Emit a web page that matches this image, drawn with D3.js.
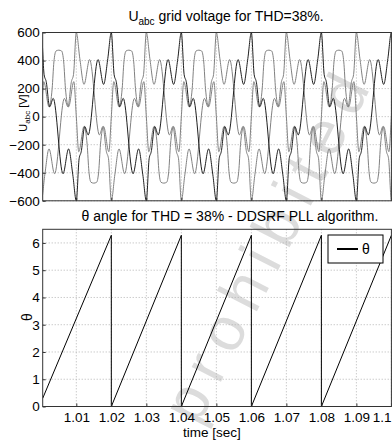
<!DOCTYPE html>
<html>
<head>
<meta charset="utf-8">
<script src="https://cdn.jsdelivr.net/npm/d3@7"></script>
<style>
  body { margin: 0; background: #fff; }
  svg { display: block; }
  text { font-family: "Liberation Sans", Arial, sans-serif; fill: #000; }
</style>
</head>
<body>
<svg id="chart" width="392" height="441"></svg>
<script>
// ---- data ----
const xTickVals = [1.01, 1.02, 1.03, 1.04, 1.05, 1.06, 1.07, 1.08, 1.09, 1.1]
const xTickLabels = ['1.01', '1.02', '1.03', '1.04', '1.05', '1.06', '1.07', '1.08', '1.09', '1.1']
const voltTicks = [-600, -400, -200, 0, 200, 400, 600]
const angleTicks = [0, 1, 2, 3, 4, 5, 6]

// one grid period (0.02 s from 1.02 s); position given as fraction of the period
const period = 0.02
const periodStart = 1.02
// dark phase: spike at 1.02
const darkP = [0, 0.04, 0.07, 0.12, 0.17, 0.31, 0.39, 0.45, 0.5, 0.54, 0.57, 0.62, 0.67, 0.81, 0.89, 0.95]
const darkV = [600, 300, 250, 70, 130, -407, -230, -415, -600, -300, -250, -70, -130, 407, 230, 415]
// grey phase: spike at 1.03
const grayP = [0, 0.05, 0.11, 0.19, 0.33, 0.38, 0.43, 0.46, 0.5, 0.55, 0.61, 0.69, 0.83, 0.88, 0.93, 0.96]
const grayV = [-600, -415, -230, -407, 130, 70, 250, 300, 600, 415, 230, 407, -130, -70, -250, -300]
// grey phase with the flat hump
const humpP = [0, 0.035, 0.11, 0.155, 0.18, 0.21, 0.25, 0.29, 0.32, 0.345, 0.39, 0.465,
               0.5, 0.535, 0.61, 0.655, 0.68, 0.71, 0.75, 0.79, 0.82, 0.845, 0.89, 0.965]
const humpV = [0, 250, 70, 200, 390, 468, 474, 468, 390, 200, 70, 250,
               0, -250, -70, -200, -390, -468, -474, -468, -390, -200, -70, -250]

// theta sawtooth breakpoints
const thetaT = [1.0004, 1.02, 1.02, 1.04, 1.04, 1.06, 1.06, 1.08, 1.08, 1.1]
const thetaV = [0.3, 6.28, 0, 6.28, 0, 6.28, 0, 6.28, 0, 6.28]

// ---- layout ----
const svg = d3.select('#chart')
const L = 42.7, R = 391.4
const top1 = 32.5, bot1 = 200.8
const top2 = 229.3, bot2 = 406.5

const x = d3.scaleLinear().domain([1.0004, 1.1]).range([L, R])
const yV = d3.scaleLinear().domain([-600, 600]).range([bot1, top1])
const yA = d3.scaleLinear().domain([0, 6.5]).range([bot2, top2])

function tile(ps, vs) {
  const pts = []
  for (let k = -2; k <= 5; k++) {
    ps.forEach((p, i) => pts.push([periodStart + (k + p) * period, vs[i]]))
  }
  return pts.sort((a, b) => a[0] - b[0])
}

const defs = svg.append('defs')
defs.append('clipPath').attr('id', 'clip1').append('rect')
  .attr('x', L).attr('y', top1 - 1).attr('width', R - L).attr('height', bot1 - top1 + 2)
defs.append('clipPath').attr('id', 'clip2').append('rect')
  .attr('x', L).attr('y', top2).attr('width', R - L).attr('height', bot2 - top2)

// watermark
svg.append('text')
  .attr('transform', 'translate(198,427) rotate(-63)')
  .attr('font-size', 62).attr('letter-spacing', 12)
  .style('fill', '#dcdcdc')
  .text('prohibited')

function grid(g, y, yt, top, bot) {
  g.selectAll('.gx').data(xTickVals).enter().append('line')
    .attr('x1', d => x(d)).attr('x2', d => x(d)).attr('y1', top).attr('y2', bot)
  g.selectAll('.gy').data(yt).enter().append('line')
    .attr('x1', L).attr('x2', R).attr('y1', d => y(d)).attr('y2', d => y(d))
  g.attr('stroke', '#b4b4b4').attr('stroke-dasharray', '1,2').attr('stroke-width', 1)
}
grid(svg.append('g'), yV, voltTicks, top1, bot1)
grid(svg.append('g'), yA, angleTicks, top2, bot2)

// ---- voltage plot ----
const line = d3.line().x(d => x(d[0])).y(d => yV(d[1])).curve(d3.curveMonotoneX)
const g1 = svg.append('g').attr('clip-path', 'url(#clip1)').attr('fill', 'none')
g1.append('path').attr('d', line(tile(humpP, humpV))).attr('stroke', '#808080')
g1.append('path').attr('d', line(tile(grayP, grayV))).attr('stroke', '#808080')
g1.append('path').attr('d', line(tile(darkP, darkV))).attr('stroke', '#1e1e1e')

// ---- theta plot ----
const tline = d3.line().x(d => x(d[0])).y(d => yA(d[1]))
svg.append('g').attr('clip-path', 'url(#clip2)').append('path')
  .attr('d', tline(thetaT.map((t, i) => [t, thetaV[i]])))
  .attr('fill', 'none').attr('stroke', '#000')

// ---- axes ----
function frame(top, bot) {
  svg.append('rect').attr('x', L).attr('y', top).attr('width', R - L).attr('height', bot - top)
    .attr('fill', 'none').attr('stroke', '#333')
}
frame(top1, bot1)
frame(top2, bot2)

const fs = 13.5
const ax1 = svg.append('g').attr('transform', `translate(${L},0)`)
  .call(d3.axisLeft(yV).tickValues(voltTicks).tickSize(-3).tickPadding(3).tickFormat(d3.format('d')))
const ax2 = svg.append('g').attr('transform', `translate(${L},0)`)
  .call(d3.axisLeft(yA).tickValues(angleTicks).tickSize(-3).tickPadding(3).tickFormat(d3.format('d')))
const ax3 = svg.append('g').attr('transform', `translate(0,${bot2})`)
  .call(d3.axisBottom(x).tickValues(xTickVals).tickSize(-3).tickPadding(6).tickFormat((d, i) => xTickLabels[i]))
const ax4 = svg.append('g').attr('transform', `translate(0,${bot1})`)
  .call(d3.axisBottom(x).tickValues(xTickVals).tickSize(-3).tickFormat(''))
;[ax1, ax2, ax3, ax4].forEach(a => {
  a.select('.domain').remove()
  a.selectAll('text').attr('font-size', fs).attr('font-family', '"Liberation Sans", Arial, sans-serif')
  a.selectAll('line').attr('stroke', '#333')
})
// last label sits against the right edge
ax3.selectAll('.tick text').filter(d => d === 1.1).attr('text-anchor', 'end').attr('x', 391 - x(1.1))

// titles
const t1 = svg.append('text').attr('x', 226).attr('y', 21).attr('text-anchor', 'middle').attr('font-size', 14)
t1.append('tspan').text('U')
t1.append('tspan').attr('font-size', 10).attr('dy', 4).text('abc')
t1.append('tspan').attr('dy', -4).text(' grid voltage for THD=38%.')

svg.append('text').attr('x', 230).attr('y', 221).attr('text-anchor', 'middle').attr('font-size', 14)
  .text('θ angle for THD = 38% - DDSRF PLL algorithm.')

const yl = svg.append('text').attr('transform', 'translate(27,113) rotate(-90)').attr('text-anchor', 'middle').attr('font-size', 11)
yl.append('tspan').text('U')
yl.append('tspan').attr('font-size', 8).attr('dy', 3).text('abc')
yl.append('tspan').attr('dy', -3).text(' [V]')

svg.append('text').attr('transform', 'translate(32,317) rotate(-90)').attr('text-anchor', 'middle').attr('font-size', 14).text('θ')
svg.append('text').attr('x', 212).attr('y', 437).attr('text-anchor', 'middle').attr('font-size', 13.5).text('time [sec]')

// legend
const lg = svg.append('g')
lg.append('rect').attr('x', 328).attr('y', 235).attr('width', 55).attr('height', 28)
  .attr('fill', '#fff').attr('stroke', '#000')
lg.append('line').attr('x1', 337).attr('x2', 358).attr('y1', 249).attr('y2', 249).attr('stroke', '#000').attr('stroke-width', 2)
lg.append('text').attr('x', 362).attr('y', 254).attr('font-size', 14).text('θ')
</script>
</body>
</html>
